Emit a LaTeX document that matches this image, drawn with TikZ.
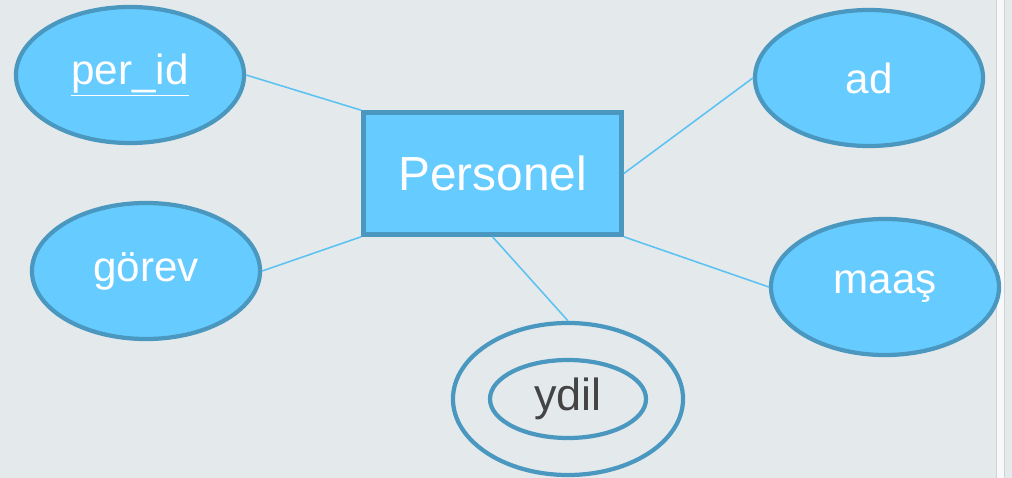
\documentclass[tikz,border=0pt]{standalone}
\usepackage{fontspec}
\setmainfont{Liberation Sans}
\usetikzlibrary{shapes,shapes.geometric,positioning}
\definecolor{bgcol}{HTML}{E4E9EC}
\definecolor{fillcol}{HTML}{66CBFF}
\definecolor{edgecol}{HTML}{4A98C0}
\definecolor{linkcol}{HTML}{5BC2F2}
\definecolor{textgray}{HTML}{444444}

\begin{document}
\begin{tikzpicture}[x=0.025cm, y=-0.025cm,
    attr/.style={ellipse, draw=edgecol, fill=fillcol, line width=3pt,
      inner sep=0pt, minimum width=5.7cm, minimum height=3.4cm,
      text=white, font=\fontsize{30}{34}\selectfont},
    entity/.style={rectangle, draw=edgecol, fill=fillcol, line width=3.2pt,
      inner sep=0pt, minimum width=6.45cm, minimum height=3.05cm,
      text=white, font=\fontsize{34}{38}\selectfont},
    multi/.style={ellipse, draw=edgecol, line width=3pt, inner sep=0pt},
    link/.style={draw=linkcol, line width=1.1pt}]
    \fill[bgcol] (0,0) rectangle (1012,478);
    \useasboundingbox (0,0) rectangle (1012,478);
    \fill[white!70!bgcol] (996,0) rectangle (1004,478);
    \draw[gray!35, line width=0.6pt] (996,0) -- (996,478)
                                     (1004,0) -- (1004,478);

    \node [entity]                                   (P) at (492.5,173.5) {Personel};
    \node [attr]                                     (A) at (130,75) {\underline{per\_id}};
    \node [attr]                                     (B) at (869,78) {ad};
    \node [attr]                                     (C) at (146,271) {görev};
    \node [attr]                                     (D) at (885,287) {maaş};
    \node [multi, minimum width=5.75cm, minimum height=3.8cm] (E) at (568,399) {};
    \node [multi, minimum width=3.9cm, minimum height=1.95cm,
      text=textgray, font=\fontsize{32}{36}\selectfont]      (F) at (568,399) {ydil};

    \path[link] (A.east)       edge (P.north west)
                (B.west)       edge (P.east)
                (C.east)       edge (P.south west)
                (D.west)       edge (P.south east)
                (P.south)      edge (E.north);
  \end{tikzpicture}
\end{document}
